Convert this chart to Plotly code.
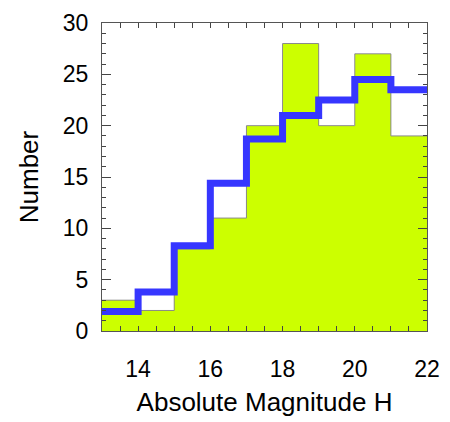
import plotly.graph_objects as go

# Data
bin_edges = [13, 14, 15, 16, 17, 18, 19, 20, 21, 22]
counts = [3, 2, 8, 11, 20, 28, 20, 27, 19]
model = [1.9, 3.8, 8.3, 14.4, 18.7, 21.0, 22.5, 24.5, 23.5]
x_ticks = [14, 16, 18, 20, 22]
y_ticks = [0, 5, 10, 15, 20, 25, 30]

centers = [(a + b) / 2 for a, b in zip(bin_edges[:-1], bin_edges[1:])]
widths = [b - a for a, b in zip(bin_edges[:-1], bin_edges[1:])]

fig = go.Figure()
fig.add_trace(go.Bar(x=centers, y=counts, width=widths,
                     marker=dict(color="#ccff00", line=dict(width=0)),
                     showlegend=False, hoverinfo="skip"))
fig.add_trace(go.Scatter(x=bin_edges, y=counts + [counts[-1]], mode="lines",
                         line=dict(shape="hv", color="#8a8a8a", width=1),
                         showlegend=False, hoverinfo="skip"))
fig.add_trace(go.Scatter(x=bin_edges, y=model + [model[-1]], mode="lines",
                         line=dict(shape="hv", color="#3636ff", width=7),
                         showlegend=False))

font = "Liberation Sans, Arial, Helvetica, sans-serif"
fig.update_layout(
    width=450, height=422,
    margin=dict(l=102, r=17, t=10, b=89),
    plot_bgcolor="white", paper_bgcolor="white",
    font=dict(family=font, color="black"),
    bargap=0,
)
fig.update_xaxes(
    range=[13, 22], tickvals=x_ticks, ticks="inside", ticklen=5, tickcolor="#444",
    tickfont=dict(size=23), ticklabelstandoff=17, ticklabeloverflow="allow",
    minor=dict(dtick=0.5, tick0=13, ticks="inside", ticklen=5, tickcolor="#444"),
    showline=True, linecolor="#555", linewidth=1, mirror="allticks",
    showgrid=False, zeroline=False,
    title=dict(text="Absolute Magnitude H", font=dict(size=26), standoff=12),
)
fig.update_yaxes(
    range=[0, 30], tickvals=y_ticks, ticks="inside", ticklen=9, tickcolor="#444",
    tickfont=dict(size=23), ticklabelstandoff=8, ticklabeloverflow="allow",
    minor=dict(dtick=1, tick0=0, ticks="inside", ticklen=4, tickcolor="#444"),
    showline=True, linecolor="#555", linewidth=1, mirror="allticks",
    showgrid=False, zeroline=False,
    title=dict(text="Number", font=dict(size=26), standoff=16),
)
fig.write_html("out.html")
